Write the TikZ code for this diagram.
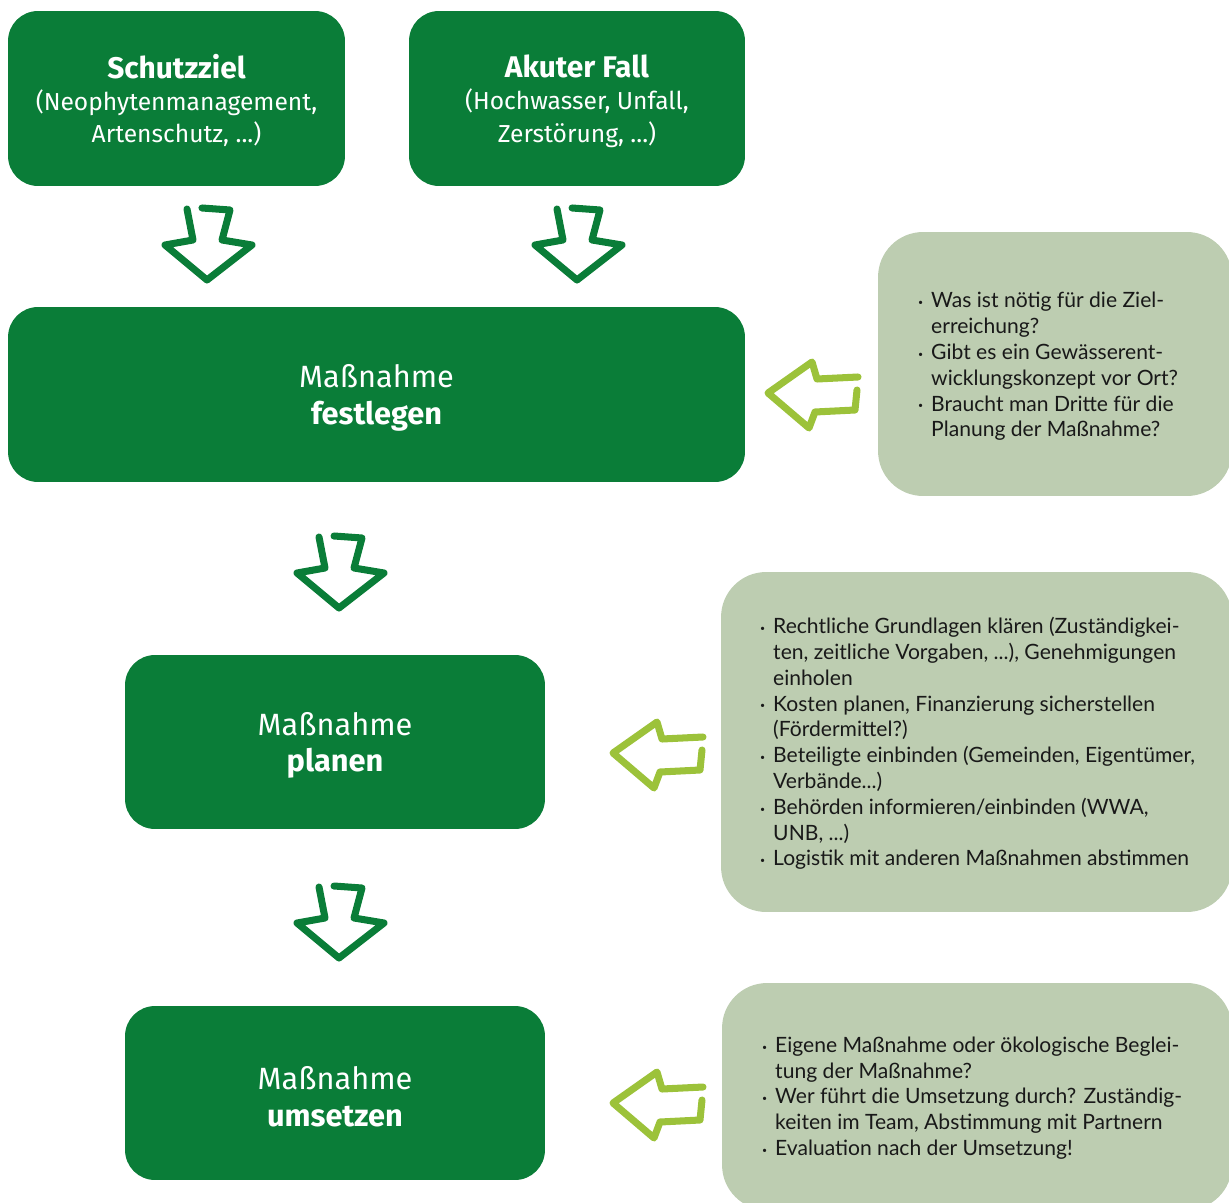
\documentclass[tikz,border=0pt]{standalone}
\usepackage{fontspec}
\setmainfont{Lato}
\newfontfamily\boxfont{Fira Sans}
\usetikzlibrary{positioning}

\definecolor{dkgreen}{HTML}{0A7D38}
\definecolor{ltbox}{HTML}{BDCDB1}
\definecolor{ltgreen}{HTML}{9CC23A}

\newcommand\itm{\makebox[7.5pt][l]{\raisebox{0.2ex}{\tiny\textbullet}}}
\newcommand\cnt{\hspace*{7.5pt}}
\newcommand\ttl[1]{{\fontsize{17}{20}\selectfont\bfseries\rule{0pt}{16pt}#1}}
\newcommand\msn{\rule{0pt}{17pt}Maßnahme}

\tikzset{
    darkbox/.style={fill=dkgreen, rounded corners=0.6cm, text=white, align=center,
        inner sep=0pt, font=\boxfont\fontsize{14}{18.3}\selectfont},
    stepbox/.style={darkbox, font=\boxfont\fontsize{17.5}{21}\selectfont},
    infobox/.style={fill=ltbox, rounded corners=0.9cm, inner sep=0pt},
    infotext/.style={anchor=west, align=left, inner sep=0pt, text=black!90,
        font=\fontsize{12}{14.7}\selectfont},
    dkarrow/.style={draw=dkgreen, line width=4pt, line join=round, line cap=round},
    ltarrow/.style={draw=ltgreen, line width=4pt, line join=round, line cap=round},
    downarr/.pic={\draw[dkarrow] (-21,-36) -- (-15,-5) -- (-43,0) -- (-1,35) -- (44,0)
        -- (14,-5) -- (22,-35) -- (-6,-37);},
    leftarr/.pic={\draw[ltarrow] (43,-18) -- (2,-16) -- (-3,-33) -- (-47,-2) -- (-6,33)
        -- (0,17) -- (40,15) -- (42,-5);},
}

\begin{document}
\begin{tikzpicture}[x=0.02cm, y=-0.02cm]
    \useasboundingbox (0,0) rectangle (1229,1202);
    \clip (0,0) rectangle (1229,1202);

    % starting points
    \node[darkbox, minimum width=6.74cm, minimum height=3.5cm] (ziel) at (176.5,98.5)
        {\ttl{Schutzziel}\\(Neophytenmanagement,\\Artenschutz, ...)};
    \node[darkbox, minimum width=6.72cm, minimum height=3.5cm] (akut) at (577,98.5)
        {\ttl{Akuter Fall}\\(Hochwasser, Unfall,\\Zerstörung, ...)};

    % steps
    \node[stepbox, minimum width=14.74cm, minimum height=3.5cm] (fest) at (376.5,394.5)
        {\msn\\\textbf{festlegen}};
    \node[stepbox, minimum width=8.4cm, minimum height=3.48cm] (plan) at (335,742)
        {\msn\\\textbf{planen}};
    \node[stepbox, minimum width=8.4cm, minimum height=3.48cm] (umsetz) at (335,1093)
        {\msn\\\textbf{umsetzen}};

    % questions
    \node[infobox, minimum width=7.08cm, minimum height=5.28cm] (info1) at (1055,364) {};
    \node[infobox, minimum width=10.22cm, minimum height=6.8cm] (info2) at (976.5,742) {};
    \node[infobox, minimum width=10.2cm, minimum height=4.54cm] (info3) at (977,1096.5) {};

    \node[infotext] (text1) at ([xshift=0.8cm, yshift=-0.05cm]info1.west)
        {\itm Was ist nötig für die Ziel-\\
         \cnt erreichung?\\
         \itm Gibt es ein Gewässerent-\\
         \cnt wicklungskonzept vor Ort?\\
         \itm Braucht man Dritte für die\\
         \cnt Planung der Maßnahme?};
    \node[infotext] (text2) at ([xshift=0.78cm, yshift=-0.03cm]info2.west)
        {\itm Rechtliche Grundlagen klären (Zuständigkei-\\
         \cnt ten, zeitliche Vorgaben, ...), Genehmigungen\\
         \cnt einholen\\
         \itm Kosten planen, Finanzierung sicherstellen\\
         \cnt (Fördermittel?)\\
         \itm Beteiligte einbinden (Gemeinden, Eigentümer,\\
         \cnt Verbände...)\\
         \itm Behörden informieren/einbinden (WWA,\\
         \cnt UNB, ...)\\
         \itm Logistik mit anderen Maßnahmen abstimmen};
    \node[infotext] (text3) at ([xshift=0.8cm, yshift=-0.03cm]info3.west)
        {\itm Eigene Maßnahme oder ökologische Beglei-\\
         \cnt tung der Maßnahme?\\
         \itm Wer führt die Umsetzung durch? Zuständig-\\
         \cnt keiten im Team, Abstimmung mit Partnern\\
         \itm Evaluation nach der Umsetzung!};

    % arrows
    \pic at (208,245) {downarr};
    \pic at (578,245) {downarr};
    \pic at (340,573) {downarr};
    \pic at (340,923) {downarr};
    \pic at (815,395) {leftarr};
    \pic at (660,755) {leftarr};
    \pic at (660,1105) {leftarr};
\end{tikzpicture}
\end{document}
